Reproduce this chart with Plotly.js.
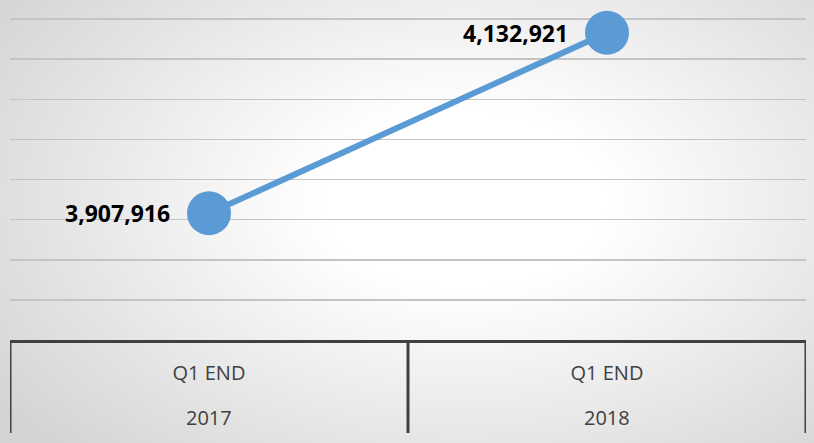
<!DOCTYPE html>
<html>
<head>
<meta charset="utf-8">
<script src="https://cdn.plot.ly/plotly-3.0.1.min.js"></script>
<style>
  html, body { margin: 0; padding: 0; }
  body { width: 814px; height: 443px; overflow: hidden;
    background: radial-gradient(ellipse 70% 80% at 57% 45%, #ffffff 0%, #ffffff 25%, #d4d4d4 100%); }
  #chart { width: 814px; height: 443px; }
</style>
</head>
<body>
<div id="chart"></div>
<script>
const years = ["2017", "2018"];
const periods = ["Q1 END", "Q1 END"];
const values = [3907916, 4132921];
const gridValues = [3750000, 3800000, 3850000, 3900000, 3950000, 4000000, 4050000, 4100000, 4150000];
const dividerPositions = [-0.5, 0.5, 1.5];

const plotTop = 17, axisY = 340, plotH = axisY - plotTop;
const toPaper = px => (axisY - px) / plotH;

const trace = {
  type: 'scatter',
  mode: 'lines+markers',
  x: years,
  y: values,
  line: { color: '#5B9BD5', width: 6 },
  marker: { color: '#5B9BD5', size: 44 },
  cliponaxis: false,
  hoverinfo: 'none'
};

// category axis: annotation x given as category index
const valueLabels = values.map((v, i) => ({
  x: i, y: v, xref: 'x', yref: 'y',
  text: '<b>' + v.toLocaleString('en-US') + '</b>',
  showarrow: false, xanchor: 'right', yanchor: 'middle',
  xshift: -37,
  font: { family: 'Open Sans', size: 23, color: '#000000' }
}));

const labelFont = { family: 'Open Sans', size: 20, color: '#404040' };

const yearLabels = years.map((yr, i) => ({
  x: i, y: toPaper(417), xref: 'x', yref: 'paper',
  text: yr, showarrow: false, xanchor: 'center', yanchor: 'middle',
  font: labelFont
}));

const dividers = dividerPositions.map(p => ({
  type: 'line', xref: 'x', yref: 'paper',
  x0: p, x1: p, y0: 0, y1: toPaper(433),
  line: { color: '#404040', width: 3 }
}));

const layout = {
  width: 814, height: 443,
  margin: { l: 10, r: 8, t: plotTop, b: 443 - axisY },
  paper_bgcolor: 'rgba(0,0,0,0)',
  plot_bgcolor: 'rgba(0,0,0,0)',
  showlegend: false,
  xaxis: {
    type: 'category',
    categoryorder: 'array', categoryarray: years,
    range: [-0.5, 1.5],
    tickmode: 'array', tickvals: years, ticktext: periods,
    showline: true, linecolor: '#404040', linewidth: 3,
    showgrid: false, zeroline: false, ticks: '',
    ticklabelstandoff: 13,
    tickfont: labelFont
  },
  yaxis: {
    range: [3750000, 4152500],
    tickmode: 'array', tickvals: gridValues,
    showticklabels: false, ticks: '',
    showgrid: true, gridcolor: '#c4c4c4', gridwidth: 1.5,
    zeroline: false, showline: false
  },
  annotations: valueLabels.concat(yearLabels),
  shapes: dividers
};

Plotly.newPlot('chart', [trace], layout, { displayModeBar: false, staticPlot: true });
</script>
</body>
</html>
